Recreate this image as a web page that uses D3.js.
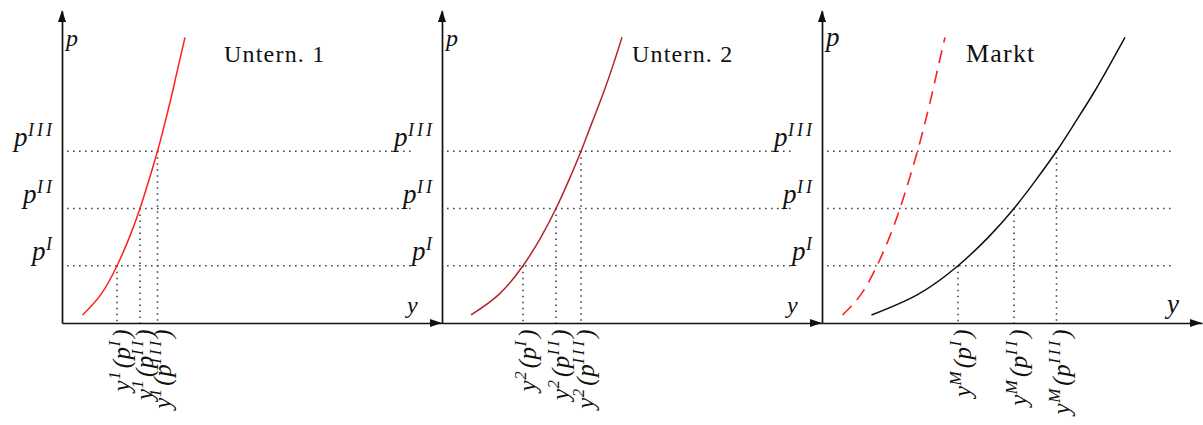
<!DOCTYPE html>
<html>
<head>
<meta charset="utf-8">
<script src="https://cdn.jsdelivr.net/npm/d3@7"></script>
<style>
  html, body { margin: 0; padding: 0; background: #fff; }
  svg { display: block; }
  .math { font-family: "Liberation Serif", "Times New Roman", serif; font-style: italic; fill: #111; }
  .title { font-family: "Liberation Serif", "Times New Roman", serif; fill: #111; }
</style>
</head>
<body>
<svg id="chart" width="1203" height="425"></svg>
<script>
// Price grid at which the supply curves are read
const prices = [0.14, 0.5, 1, 1.5, 2, 2.5, 3, 3.5, 4, 4.5, 4.99];
// Supplied quantity of firm 1 at each price
const firm1Qty = [20.5, 39, 55, 67.5, 78, 87, 95.5, 103, 110, 116.5, 123];
// Supplied quantity of firm 2 at each price
const firm2Qty = [29, 57, 81, 99, 114, 127, 139, 150, 161, 171, 180];
// Market supply: horizontal sum of both firms
const marketQty = firm1Qty.map((q, i) => q + firm2Qty[i]);
// Reference price levels and their labels
const priceLevels = [1, 2, 3];
const priceLabels = ["I", "II", "III"];
const panelTitles = ["Untern. 1", "Untern. 2", "Markt"];
const supplyIndex = ["1", "2", "M"];

const svg = d3.select("#chart");

const yBase = 323, yTop = 11;
const pScale = d3.scaleLinear().domain([0, 5.45]).range([yBase, yTop]);
const qMax = 380;

const panels = [
  { ax: 62,  qty: firm1Qty,  color: "#ff1f1f", title: panelTitles[0], titleDx: 162, titleSize: 24, axisFont: 24 },
  { ax: 442, qty: firm2Qty,  color: "#b3232d", title: panelTitles[1], titleDx: 190, titleSize: 24, axisFont: 24 },
  { ax: 822, qty: marketQty, color: "#111",    title: panelTitles[2], titleDx: 144, titleSize: 26, axisFont: 27,
    ghost: { qty: firm1Qty, color: "#ff1f1f" } }
];

// Writes a formula made of base-line and superscript parts into a text element
function mathText(text, parts, baseSize, supSize, shift) {
  let up = false;
  parts.forEach(([s, sup]) => {
    const t = text.append("tspan").text(s).attr("font-size", sup ? supSize : baseSize);
    if (sup && !up) { t.attr("dy", -shift); up = true; }
    else if (!sup && up) { t.attr("dy", shift); up = false; }
    if (sup) t.attr("letter-spacing", 3);
    else t.attr("letter-spacing", 0.5);
  });
}

function arrowUp(g, x, y) {
  g.append("path").attr("d", `M${x},${y} L${x - 4},${y + 12} L${x + 4},${y + 12} Z`).attr("fill", "#111");
}
function arrowRight(g, x, y) {
  g.append("path").attr("d", `M${x},${y} L${x - 12},${y - 4} L${x - 12},${y + 4} Z`).attr("fill", "#111");
}

const qAt = (arr, p) => arr[prices.indexOf(p)];

panels.forEach((pn, k) => {
  const g = svg.append("g");
  const x = d3.scaleLinear().domain([0, qMax]).range([pn.ax, pn.ax + qMax]);

  // horizontal guides at the reference prices
  priceLevels.forEach(p => {
    g.append("line")
      .attr("x1", x(5)).attr("x2", x(353))
      .attr("y1", pScale(p)).attr("y2", pScale(p))
      .attr("stroke", "#444").attr("stroke-width", 1.6)
      .attr("stroke-dasharray", "1.6 4.4");
  });

  // vertical guides down to the quantity axis
  priceLevels.forEach(p => {
    const q = qAt(pn.qty, p);
    g.append("line")
      .attr("x1", x(q)).attr("x2", x(q))
      .attr("y1", pScale(p)).attr("y2", yBase)
      .attr("stroke", "#444").attr("stroke-width", 1.6)
      .attr("stroke-dasharray", "1.6 4.4");
  });

  // axes
  const xAxis = d3.axisBottom(x).tickValues([]).tickSizeOuter(0);
  const yAxis = d3.axisLeft(pScale).tickValues([]).tickSizeOuter(0);
  g.append("g").attr("transform", `translate(0,${yBase})`).call(xAxis)
    .select(".domain").attr("stroke", "#111").attr("stroke-width", 1.7);
  g.append("g").attr("transform", `translate(${pn.ax},0)`).call(yAxis)
    .select(".domain").attr("stroke", "#111").attr("stroke-width", 1.7);
  arrowUp(g, pn.ax, yTop - 1);
  arrowRight(g, pn.ax + qMax, yBase);

  const line = (arr) => d3.line()
    .x((d, i) => x(arr[i]))
    .y(d => pScale(d))
    .curve(d3.curveNatural)(prices);

  if (pn.ghost) {
    g.append("path").attr("d", line(pn.ghost.qty))
      .attr("fill", "none").attr("stroke", pn.ghost.color)
      .attr("stroke-width", 1.6).attr("stroke-dasharray", "13 8");
  }
  g.append("path").attr("d", line(pn.qty))
    .attr("fill", "none").attr("stroke", pn.color).attr("stroke-width", 1.5);

  // axis names
  g.append("text").attr("class", "math").attr("x", pn.ax + 4).attr("y", 46)
    .attr("font-size", pn.axisFont).text("p");
  g.append("text").attr("class", "math").attr("x", pn.ax + qMax - 35).attr("y", 313)
    .attr("font-size", pn.axisFont).text("y");

  // panel title
  g.append("text").attr("class", "title").attr("x", pn.ax + pn.titleDx).attr("y", 62)
    .attr("font-size", pn.titleSize).attr("letter-spacing", 1.2).text(pn.title);

  // price labels left of the axis
  priceLevels.forEach((p, i) => {
    const t = g.append("text").attr("class", "math")
      .attr("x", pn.ax - 7).attr("y", pScale(p) - 5.5).attr("text-anchor", "end");
    mathText(t, [["p", false], [priceLabels[i], true]], 27, 18, 10);
  });

  // rotated quantity labels below the axis
  priceLevels.forEach((p, i) => {
    const q = qAt(pn.qty, p);
    const t = g.append("text").attr("class", "math")
      .attr("text-anchor", "end")
      .attr("transform", `translate(${x(q) + 13},${yBase + 6}) rotate(-90)`);
    mathText(t, [["y", false], [supplyIndex[k], true], ["(", false], ["p", false], [priceLabels[i], true], [")", false]], 25, 17, 10);
  });
});
</script>
</body>
</html>
